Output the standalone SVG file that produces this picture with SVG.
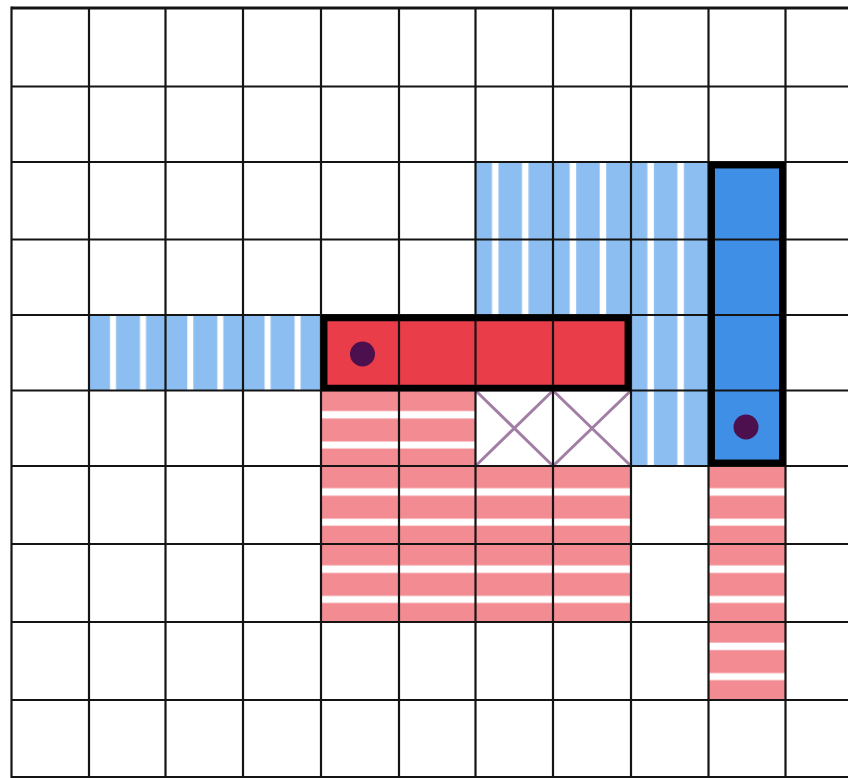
<svg xmlns="http://www.w3.org/2000/svg" width="848" height="778" viewBox="0 0 848 778">
  <style>
    .grid line { stroke: #141414; stroke-width: 2.2; }
    .blk { stroke: #000; stroke-width: 6.5; }
    .dot { fill: #4B104D; }
    .x { stroke: #A27EA5; stroke-width: 3; stroke-linecap: round; }
  </style>
  <defs>
    <pattern id="blueL" patternUnits="userSpaceOnUse" x="89" y="0" width="77.3" height="20">
      <rect width="77.3" height="20" fill="#8DBEF1"/>
      <rect x="21" width="6" height="20" fill="#fff"/>
      <rect x="51" width="6" height="20" fill="#fff"/>
    </pattern>
    <pattern id="blueR" patternUnits="userSpaceOnUse" x="475.5" y="0" width="77.7" height="20">
      <rect width="77.7" height="20" fill="#8DBEF1"/>
      <rect x="16.5" width="6.5" height="20" fill="#fff"/>
      <rect x="46.5" width="6.5" height="20" fill="#fff"/>
    </pattern>
    <pattern id="pink" patternUnits="userSpaceOnUse" x="0" y="390.5" width="20" height="77.2">
      <rect width="20" height="77.2" fill="#F38B93"/>
      <rect y="20.5" width="20" height="7.5" fill="#fff"/>
      <rect y="51" width="20" height="7" fill="#fff"/>
    </pattern>
  </defs>
  <rect width="848" height="778" fill="#fff"/>

  <g id="blue-striped-left">
    <rect x="89" y="315" width="232" height="75.5" fill="url(#blueL)"/>
  </g>
  <g id="blue-striped-top">
    <path d="M475.5 162 H708.5 V466 H631 V315 H475.5 Z" fill="url(#blueR)"/>
  </g>
  <g id="pink-striped-main">
    <path d="M321 390.5 H475.5 V466 H631 V622 H321 Z" fill="url(#pink)"/>
  </g>
  <g id="pink-striped-right">
    <rect x="708.5" y="466" width="77" height="234" fill="url(#pink)"/>
  </g>
  <g id="crossed-cells">
    <line class="x" x1="476.5" y1="391.5" x2="552" y2="465"/>
    <line class="x" x1="552" y1="391.5" x2="476.5" y2="465"/>
    <line class="x" x1="554" y1="391.5" x2="630" y2="465"/>
    <line class="x" x1="630" y1="391.5" x2="554" y2="465"/>
  </g>

  <g id="red-block-fill">
    <rect x="321" y="315" width="310" height="76" fill="#E93D4A"/>
  </g>
  <g id="blue-block-fill">
    <rect x="708.5" y="162" width="77" height="304" fill="#3F8FE6"/>
  </g>

  <g class="grid" id="grid">
    <line x1="11.5" y1="8" x2="848" y2="8" style="stroke-width:3"/>
    <line x1="11.5" y1="86.5" x2="848" y2="86.5"/>
    <line x1="11.5" y1="162" x2="848" y2="162"/>
    <line x1="11.5" y1="239.5" x2="848" y2="239.5"/>
    <line x1="11.5" y1="315" x2="848" y2="315"/>
    <line x1="11.5" y1="390.5" x2="848" y2="390.5"/>
    <line x1="11.5" y1="466" x2="848" y2="466"/>
    <line x1="11.5" y1="544" x2="848" y2="544"/>
    <line x1="11.5" y1="622" x2="848" y2="622"/>
    <line x1="11.5" y1="700" x2="848" y2="700"/>
    <line x1="11.5" y1="777" x2="848" y2="777"/>
    <line x1="11.5" y1="6.5" x2="11.5" y2="778"/>
    <line x1="89" y1="8" x2="89" y2="778"/>
    <line x1="165.5" y1="8" x2="165.5" y2="778"/>
    <line x1="243" y1="8" x2="243" y2="778"/>
    <line x1="321" y1="8" x2="321" y2="778"/>
    <line x1="399" y1="8" x2="399" y2="778"/>
    <line x1="475.5" y1="8" x2="475.5" y2="778"/>
    <line x1="553" y1="8" x2="553" y2="778"/>
    <line x1="631" y1="8" x2="631" y2="778"/>
    <line x1="708.5" y1="8" x2="708.5" y2="778"/>
    <line x1="785.5" y1="8" x2="785.5" y2="778"/>
  </g>

  <g id="red-block">
    <rect class="blk" x="324.2" y="318" width="303.6" height="70" fill="none"/>
    <circle class="dot" cx="362.5" cy="354" r="12.5"/>
  </g>
  <g id="blue-block">
    <rect class="blk" x="711.7" y="165.2" width="70.6" height="297.6" fill="none"/>
    <circle class="dot" cx="746" cy="427" r="12.5"/>
  </g>
</svg>
